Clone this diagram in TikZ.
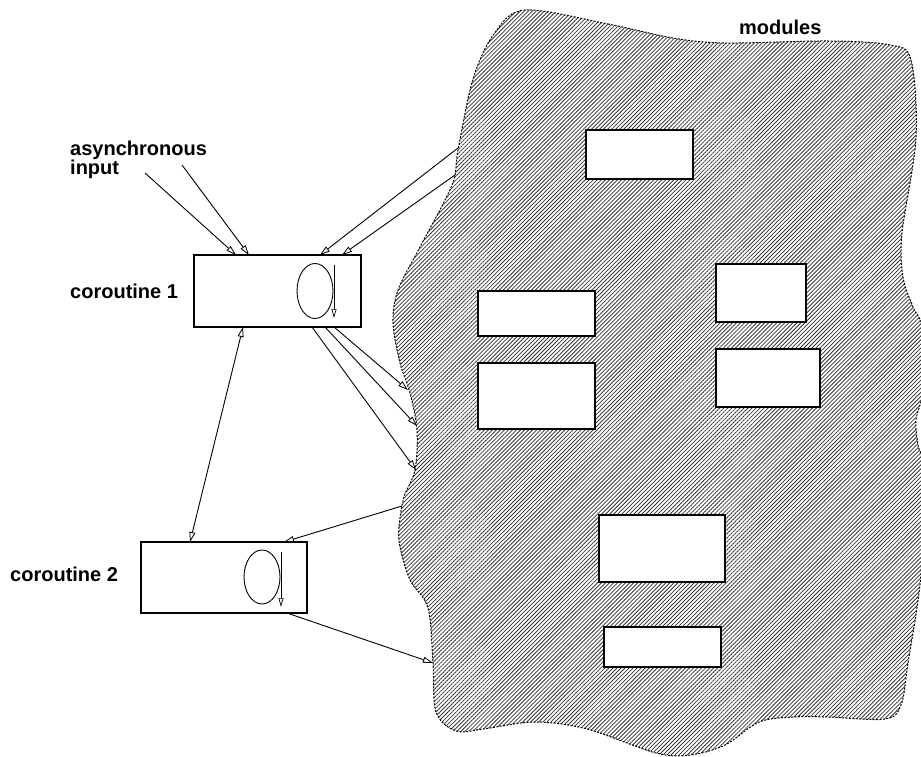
\documentclass[tikz,border=0pt]{standalone}
\usepackage{fontspec}
\setmainfont{Liberation Sans}
\usetikzlibrary{arrows.meta,patterns.meta}
\begin{document}
\begin{tikzpicture}[x=1pt,y=-1pt,
  lbl/.style={font=\fontsize{20}{18}\selectfont\bfseries, inner sep=0pt, anchor=west, align=left},
  corbox/.style={draw, line width=1.1pt, fill=white, inner sep=0pt, outer sep=0pt},
  modbox/.style={draw, line width=1.1pt, fill=white, inner sep=0pt, outer sep=0pt},
  conn/.style={line width=0.9pt, -{Triangle[fill=white, length=10pt, width=6pt, line width=0.8pt]}},
  dconn/.style={line width=0.9pt, {Triangle[fill=white, length=10pt, width=6pt, line width=0.8pt]}-{Triangle[fill=white, length=10pt, width=6pt, line width=0.8pt]}},
  loopline/.style={line width=0.9pt},
  looparrow/.style={line width=1pt, -{Triangle[fill=white, length=9pt, width=5pt, line width=0.7pt]}},
  blobedge/.style={line width=1pt, dash pattern=on 2pt off 1.4pt},
  blobfill/.style={pattern={Lines[angle=45, distance=2.85pt, line width=0.8pt]}, pattern color=black!80}
]
\useasboundingbox (0,0) rectangle (921,757);

% blob
\path[blobfill] plot[smooth cycle, tension=0.55] coordinates {
 (525,10) (608,24) (673,38) (725,43) (828,41) (890,45) (911,60) (916,138)
 (902,233) (903,277) (913,307) (923,330) (923,390) (916,420) (918,445) (923,470)
 (921,574) (908,663) (901,705) (885,719) (828,717) (794,717) (759,722) (725,745)
 (690,755) (656,753) (587,729) (535,722) (483,729) (456,731) (436,712) (433,663)
 (428,608) (410,580) (400,547) (399,527) (404,497) (415,470) (417,430) (410,393)
 (400,363) (393,323) (398,290) (420,247) (452,185) (458,150) (473,79) (494,34)};
\draw[blobedge] plot[smooth cycle, tension=0.55] coordinates {
 (525,10) (608,24) (673,38) (725,43) (828,41) (890,45) (911,60) (916,138)
 (902,233) (903,277) (913,307) (923,330) (923,390) (916,420) (918,445) (923,470)
 (921,574) (908,663) (901,705) (885,719) (828,717) (794,717) (759,722) (725,745)
 (690,755) (656,753) (587,729) (535,722) (483,729) (456,731) (436,712) (433,663)
 (428,608) (410,580) (400,547) (399,527) (404,497) (415,470) (417,430) (410,393)
 (400,363) (393,323) (398,290) (420,247) (452,185) (458,150) (473,79) (494,34)};

% module boxes
\node[modbox, minimum width=107pt, minimum height=49pt] (m1) at (639.5,154.5) {};
\node[modbox, minimum width=117pt, minimum height=45pt] (m2) at (536.5,313.5) {};
\node[modbox, minimum width=117pt, minimum height=66pt] (m3) at (536.5,396) {};
\node[modbox, minimum width=90pt, minimum height=58pt] (m4) at (761,293) {};
\node[modbox, minimum width=104pt, minimum height=58pt] (m5) at (768,378) {};
\node[modbox, minimum width=126pt, minimum height=67pt] (m6) at (662,548.5) {};
\node[modbox, minimum width=117pt, minimum height=40pt] (m7) at (662.5,647) {};

% coroutine boxes
\node[corbox, minimum width=167pt, minimum height=72pt] (c1) at (277.5,291) {};
\node[corbox, minimum width=166pt, minimum height=71pt] (c2) at (224,577.5) {};

% loops inside the coroutines
\draw[loopline] (315,291) ellipse [x radius=18pt, y radius=27.5pt];
\coordinate (l1a) at (334,265);
\coordinate (l1b) at (334,318);
\draw[looparrow] (l1a) -- (l1b);
\draw[loopline] (262,577) ellipse [x radius=18pt, y radius=27pt];
\coordinate (l2a) at (281,552);
\coordinate (l2b) at (281,607);
\draw[looparrow] (l2a) -- (l2b);

% labels
\node[lbl] (async) at (70,160) {asynchronous\\input};
\node[lbl] (lc1) at (70,291.5) {coroutine 1};
\node[lbl] (lc2) at (10,574.5) {coroutine 2};
\node[lbl] (lmod) at (739,27) {modules};

% connector end points
\coordinate (in1) at (145,173);
\coordinate (in2) at (182,165);
\coordinate (c1t1) at (236,255);
\coordinate (c1t2) at (249,255);
\coordinate (bl1) at (458,148);
\coordinate (bl2) at (455,175);
\coordinate (c1t3) at (320,255);
\coordinate (c1t4) at (342,255);
\coordinate (c1b1) at (312,327);
\coordinate (c1b2) at (325,327);
\coordinate (c1b3) at (334,327);
\coordinate (bl3) at (408,390);
\coordinate (bl4) at (417,426);
\coordinate (bl5) at (416,470);
\coordinate (c1b0) at (243,327);
\coordinate (c2t0) at (190,542);
\coordinate (bl6) at (402,506);
\coordinate (c2t1) at (284,542);
\coordinate (c2b1) at (287,613);
\coordinate (bl7) at (433,663);

% connectors
\draw[conn] (in1) -- (c1t1);
\draw[conn] (in2) -- (c1t2);
\draw[conn] (bl1) -- (c1t3);
\draw[conn] (bl2) -- (c1t4);
\draw[conn] (c1b3) -- (bl3);
\draw[conn] (c1b2) -- (bl4);
\draw[conn] (c1b1) -- (bl5);
\draw[dconn] (c1b0) -- (c2t0);
\draw[conn] (bl6) -- (c2t1);
\draw[conn] (c2b1) -- (bl7);
\end{tikzpicture}
\end{document}
